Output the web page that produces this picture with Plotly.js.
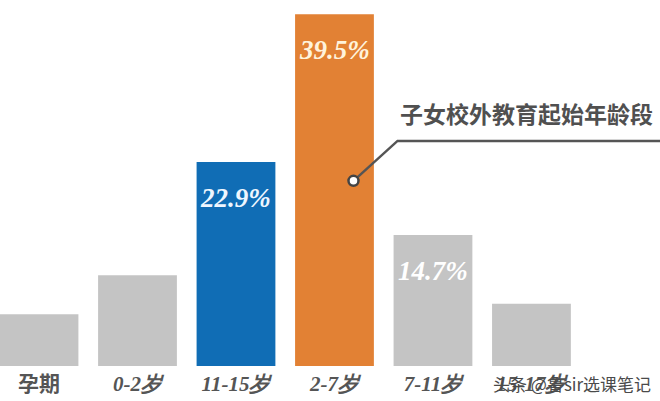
<!DOCTYPE html>
<html>
<head>
<meta charset="utf-8">
<script src="https://cdn.plot.ly/plotly-3.0.1.min.js"></script>
<style>html,body{margin:0;padding:0;background:#fff;}#chart{width:660px;height:401px;}</style>
</head>
<body>
<div id="chart"></div>
<script>
// Data
var categories = ['孕期', '0-2岁', '11-15岁', '2-7岁', '7-11岁', '15-17岁'];
var values = [5.8, 10.2, 22.9, 39.5, 14.7, 7.0];
var valueLabels = ['', '', '22.9%', '39.5%', '14.7%', ''];
var barColors = ['#c4c4c4', '#c4c4c4', '#106db5', '#e28134', '#c4c4c4', '#c4c4c4'];
var labelColors = ['#fff', '#fff', '#eef6ff', '#fff3dc', '#ffffff', '#fff'];
var calloutText = '子女校外教育起始年龄段';
var watermark = '头条 @鲁sir选课笔记';

var idx = categories.map(function(_, i){ return i; });
var tickText = categories.map(function(c, i){
  if (i === 0) return '<span style="font-family:\'Noto Sans CJK SC\';font-style:normal;font-weight:bold">' + c + '</span>';
  return c;
});

var trace = {
  type: 'bar',
  x: idx,
  y: values,
  marker: {color: barColors, line: {width: 0}},
  hoverinfo: 'none'
};

var annotations = [];
idx.forEach(function(i){
  if (valueLabels[i]) {
    annotations.push({
      x: i, y: values[i], xref: 'x', yref: 'y',
      text: valueLabels[i], showarrow: false,
      yshift: -36,
      font: {family: 'Liberation Serif', size: 27, color: labelColors[i], weight: 'bold', style: 'italic'}
    });
  }
});
// Callout
annotations.push({
  x: 3.64, y: 28.4, xref: 'x', yref: 'y', xanchor: 'left', yanchor: 'middle',
  text: '<b>' + calloutText + '</b>', showarrow: false,
  font: {family: 'Noto Sans CJK SC', size: 23, color: '#505050'}
});
annotations.push({
  x: 0.99, y: 0, xref: 'paper', yref: 'paper', xanchor: 'right', yanchor: 'middle',
  yshift: -17,
  text: watermark, showarrow: false,
  font: {family: 'Noto Sans CJK SC', size: 17, color: '#4a4a4a'}
});

var layout = {
  width: 660, height: 401,
  margin: {l: 0, r: 0, t: 0, b: 35},
  paper_bgcolor: '#ffffff', plot_bgcolor: '#ffffff',
  showlegend: false,
  bargap: 0.2,
  xaxis: {
    range: [-0.396, 6.305],
    tickvals: idx, ticktext: tickText,
    showgrid: false, zeroline: false, showline: false, ticks: '',
    ticklabelstandoff: 3,
    tickfont: {family: 'Liberation Serif', size: 21, color: '#555555', weight: 'bold', style: 'italic'},
    fixedrange: true
  },
  yaxis: {
    range: [0, 41.1],
    visible: false, showgrid: false, zeroline: false, fixedrange: true
  },
  shapes: [
    {type: 'path', xref: 'x', yref: 'y',
     path: 'M 3.193 20.79 L 3.64 25.28 L 6.305 25.28',
     line: {color: '#555555', width: 2.5}},
    {type: 'circle', xref: 'x', yref: 'y', xsizemode: 'pixel', ysizemode: 'pixel',
     xanchor: 3.193, yanchor: 20.79, x0: -5, x1: 5, y0: -5, y1: 5,
     fillcolor: '#ffffff', line: {color: '#444444', width: 2.5}}
  ],
  annotations: annotations
};

Plotly.newPlot('chart', [trace], layout, {displayModeBar: false, staticPlot: true});
</script>
</body>
</html>
